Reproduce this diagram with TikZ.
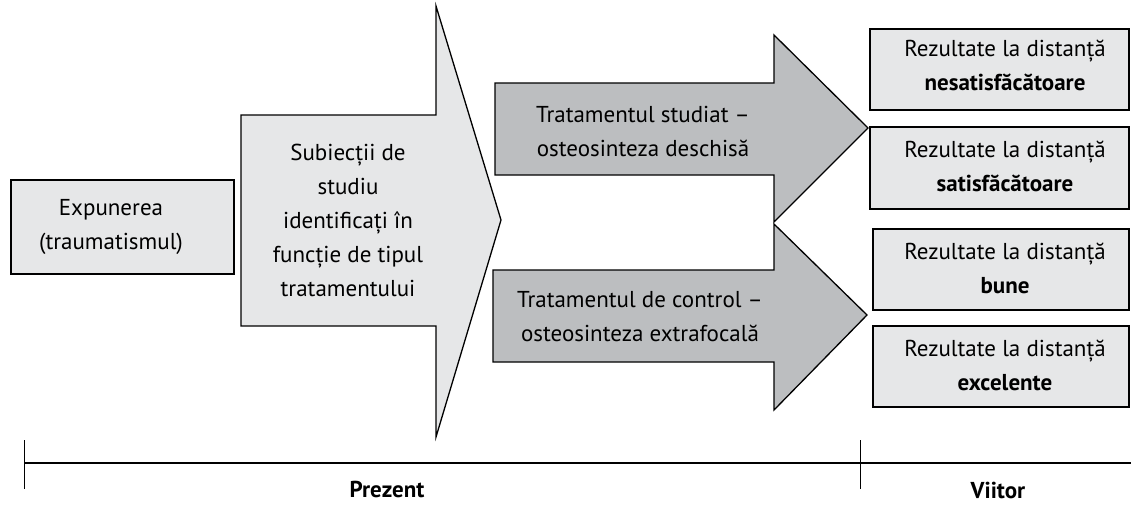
\documentclass[tikz,border=0pt]{standalone}
\usepackage{fontspec}
\setmainfont{PT Sans}
\definecolor{lightfill}{HTML}{E6E7E8}
\definecolor{darkfill}{HTML}{BCBEC0}
\begin{document}
\begin{tikzpicture}[x=1pt,y=-1pt,
  shapeline/.style={draw=black,line width=1.3pt,line join=miter},
  txt/.style={align=center,font=\fontsize{23}{34}\selectfont,inner sep=0pt},
  resbox/.style={shapeline,fill=lightfill},
  tlabel/.style={font=\fontsize{23}{26}\selectfont\bfseries,inner sep=0pt}]
\useasboundingbox (0,0) rectangle (1131,504);
% exposure box
\draw[resbox] (11,180) rectangle (234,274);
\node[txt] (expo) at (111,227) {Expunerea\\(traumatismul)};
% big light arrow
\draw[shapeline,fill=lightfill] (241,115) -- (436,115) -- (436,6) -- (501,220) -- (436,437) -- (436,326) -- (241,326) -- cycle;
\node[txt] (subj) at (348,220) {Subiecții de\\studiu\\identificați în\\funcție de tipul\\tratamentului};
% dark arrows
\draw[shapeline,fill=darkfill] (495,83) -- (774,83) -- (774,35) -- (868,128) -- (774,222) -- (774,175) -- (495,175) -- cycle;
\node[txt] (studiat) at (643,131) {Tratamentul studiat --\\osteosinteza deschisă};
\draw[shapeline,fill=darkfill] (493,270) -- (774,270) -- (774,224) -- (867,315) -- (774,410) -- (774,362) -- (493,362) -- cycle;
\node[txt] (control) at (640,317) {Tratamentul de control --\\osteosinteza extrafocală};
% result boxes
\draw[resbox] (870,29) rectangle (1129,110);
\node[txt] (r1) at (1005,65) {Rezultate la distanță\\\textbf{nesatisfăcătoare}};
\draw[resbox] (870,127) rectangle (1129,209);
\node[txt] (r2) at (1005,166) {Rezultate la distanță\\\textbf{satisfăcătoare}};
\draw[resbox] (873,229) rectangle (1129,310);
\node[txt] (r3) at (1005,268) {Rezultate la distanță\\\textbf{bune}};
\draw[resbox] (873,326) rectangle (1129,407);
\node[txt] (r4) at (1005,365) {Rezultate la distanță\\\textbf{excelente}};
% timeline
\coordinate (tl) at (24,463);
\coordinate (tm) at (860,463);
\coordinate (tr) at (1131,463);
\draw[line width=1.3pt] (tl) -- (tr);
\draw[line width=0.8pt] (24,440) -- (24,489);
\draw[line width=0.8pt] (860,440) -- (860,489);
\node[tlabel] (prez) at (387,489) {Prezent};
\node[tlabel] (viit) at (998,490) {Viitor};
\end{tikzpicture}
\end{document}
